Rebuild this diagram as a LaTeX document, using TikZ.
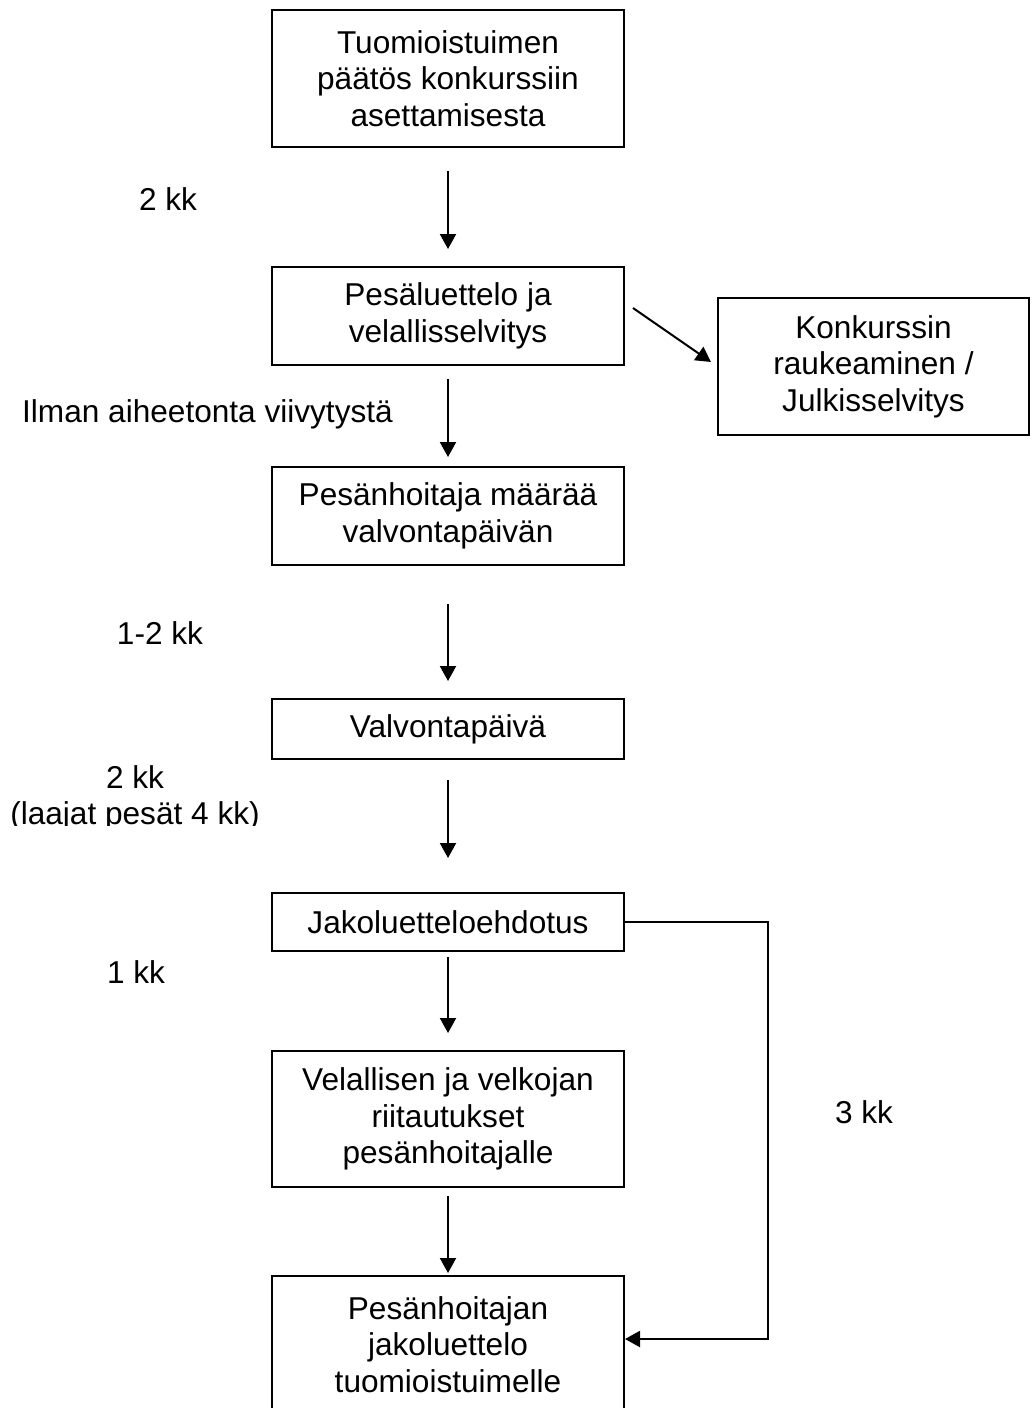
\documentclass[tikz,border=0pt]{standalone}
\usepackage{fontspec}
\setmainfont{Liberation Sans}
\usetikzlibrary{arrows.meta,calc}
\begin{document}
\begin{tikzpicture}[x=1pt,y=-1pt,
  txt/.style={font=\fontsize{31.6}{36.5}\selectfont, inner sep=0pt, align=center},
  box/.style={txt, draw, line width=2pt, minimum width=352pt},
  arr/.style={line width=2pt, -{Triangle[length=15pt,width=16pt]}}]
\useasboundingbox (0,0) rectangle (1031,1408);
\clip (0,0) rectangle (1031,1408);

\node[box, minimum height=137pt] (b1) at (448,78.5) {Tuomioistuimen\\päätös konkurssiin\\asettamisesta};
\node[box, minimum height=98pt] (b2) at (448,316) {Pesäluettelo ja\\velallisselvitys};
\node[box, minimum width=311pt, minimum height=137pt] (b3) at (873.5,366.5) {Konkurssin\\raukeaminen /\\Julkisselvitys};
\node[box, minimum height=98pt] (b4) at (448,516) {Pesänhoitaja määrää\\valvontapäivän};
\node[box, minimum height=60pt] (b5) at (448,729) {Valvontapäivä};
\node[box, minimum height=58pt] (b6) at (448,922) {Jakoluetteloehdotus};
\node[box, minimum height=136pt] (b7) at (448,1119) {Velallisen ja velkojan\\riitautukset\\pesänhoitajalle};
\node[box, minimum height=137pt] (b8) at (448,1344.5) {Pesänhoitajan\\jakoluettelo\\tuomioistuimelle};

\draw[arr, shorten <=23pt, shorten >=17pt] (b1.south) -- (b2.north);
\draw[arr, shorten <=13pt, shorten >=9pt] (b2.south) -- (b4.north);
\draw[arr, shorten <=38pt, shorten >=17pt] (b4.south) -- (b5.north);
\draw[arr, shorten <=20pt, shorten >=34pt] (b5.south) -- (b6.north);
\draw[arr, shorten <=5pt, shorten >=17pt] (b6.south) -- (b7.north);
\draw[arr, shorten <=8pt, shorten >=2pt] (b7.south) -- (b8.north);

\draw[arr] ($(b2.east)+(8,-8)$) -- ($(b3.west)+(-6,-4.5)$);

\coordinate (rx) at (768,0);
\coordinate (b8in) at ([yshift=5.5pt]b8.east);
\draw[arr] (b6.east) -- (b6.east -| rx) -- (rx |- b8in) -- (b8in);

\node[txt, anchor=base] (l1) at (168,210) {2 kk};
\node[txt, anchor=base] (l2) at (207.5,422) {Ilman aiheetonta viivytystä};
\node[txt, anchor=base] (l3) at (160,644) {1-2 kk};
\node[txt, anchor=base] (l4) at (135,788) {2 kk};
\begin{scope}
  \clip (0,760) rectangle (300,825);
  \node[txt, anchor=base] (l5) at (135,824) {(laajat pesät 4 kk)};
\end{scope}
\node[txt, anchor=base] (l6) at (136,983) {1 kk};
\node[txt, anchor=base] (l7) at (864,1123) {3 kk};
\end{tikzpicture}
\end{document}
